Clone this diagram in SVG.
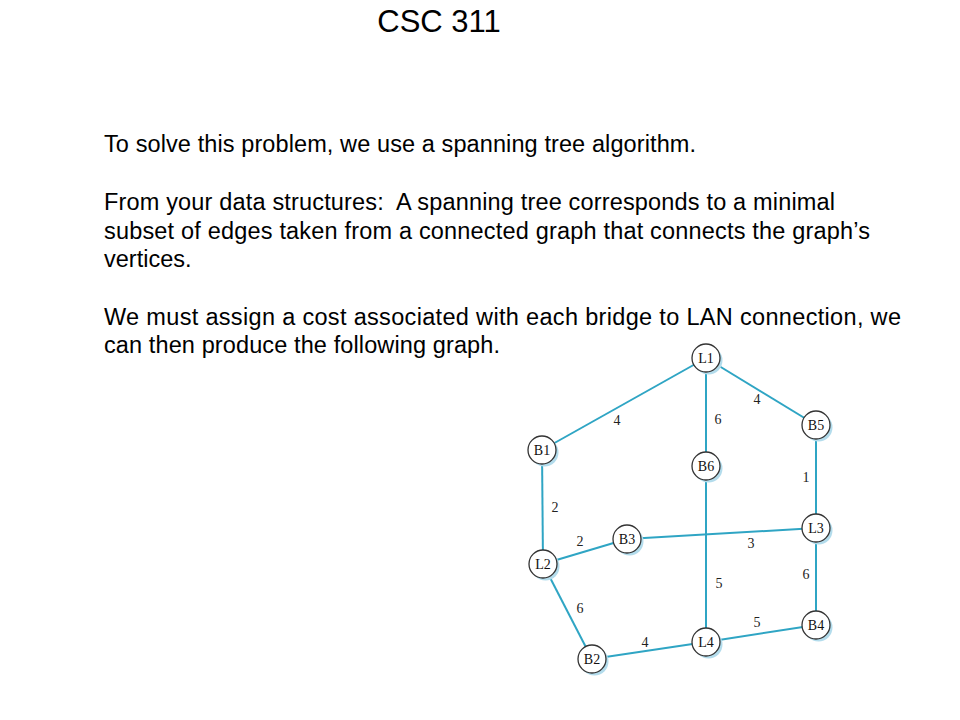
<svg xmlns="http://www.w3.org/2000/svg" width="960" height="720" viewBox="0 0 960 720">
<style>
.title{font-family:"Liberation Sans",Arial,sans-serif;font-size:31px;fill:#000;text-anchor:middle}
.body{font-family:"Liberation Sans",Arial,sans-serif;font-size:23.5px;fill:#000;white-space:pre}
.edge{stroke:#2fa5c4;stroke-width:2;fill:none}
.shadow{fill:#b3dcec}
.node{fill:#fff;stroke:#333;stroke-width:1.3}
.nl{font-family:"Liberation Serif","Times New Roman",serif;font-size:14px;fill:#111;text-anchor:middle}
.wl{font-family:"Liberation Serif","Times New Roman",serif;font-size:14px;fill:#222;text-anchor:middle}
</style>
<rect width="960" height="720" fill="#fff"/>
<text class="title" x="439" y="32">CSC 311</text>
<g id="text">
<text class="body" x="104" y="152" textLength="592" lengthAdjust="spacing">To solve this problem, we use a spanning tree algorithm.</text>
<text class="body" x="104" y="210" textLength="731" lengthAdjust="spacing" xml:space="preserve">From your data structures:  A spanning tree corresponds to a minimal</text>
<text class="body" x="104" y="238.5" textLength="766" lengthAdjust="spacing">subset of edges taken from a connected graph that connects the graph’s</text>
<text class="body" x="104" y="267">vertices.</text>
<text class="body" x="104" y="325" textLength="797" lengthAdjust="spacing">We must assign a cost associated with each bridge to LAN connection, we</text>
<text class="body" x="104" y="353" textLength="396" lengthAdjust="spacing">can then produce the following graph.</text>
</g>
<g id="connectors">
<line class="edge" x1="706" y1="358" x2="542" y2="450"/>
<line class="edge" x1="706" y1="358" x2="706" y2="466"/>
<line class="edge" x1="706" y1="358" x2="816" y2="425"/>
<line class="edge" x1="816" y1="425" x2="816" y2="528"/>
<line class="edge" x1="542" y1="450" x2="543" y2="564"/>
<line class="edge" x1="543" y1="564" x2="627" y2="539"/>
<line class="edge" x1="627" y1="539" x2="816" y2="528"/>
<line class="edge" x1="706" y1="466" x2="706" y2="642"/>
<line class="edge" x1="816" y1="528" x2="816" y2="625"/>
<line class="edge" x1="543" y1="564" x2="592" y2="659"/>
<line class="edge" x1="592" y1="659" x2="706" y2="642"/>
<line class="edge" x1="706" y1="642" x2="816" y2="625"/>
</g>
<g id="weights">
<text class="wl" x="617" y="425">4</text>
<text class="wl" x="718" y="424">6</text>
<text class="wl" x="757" y="404">4</text>
<text class="wl" x="806" y="482">1</text>
<text class="wl" x="555" y="512">2</text>
<text class="wl" x="580" y="546">2</text>
<text class="wl" x="751" y="548">3</text>
<text class="wl" x="719" y="588">5</text>
<text class="wl" x="806" y="579">6</text>
<text class="wl" x="580" y="613">6</text>
<text class="wl" x="757" y="627">5</text>
<text class="wl" x="645" y="647">4</text>
</g>
<g id="L1"><circle class="shadow" cx="708.5" cy="360.5" r="14"/><circle class="node" cx="706" cy="358" r="14"/><text class="nl" x="706" y="363">L1</text></g>
<g id="B1"><circle class="shadow" cx="544.5" cy="452.5" r="14"/><circle class="node" cx="542" cy="450" r="14"/><text class="nl" x="542" y="455">B1</text></g>
<g id="B5"><circle class="shadow" cx="818.5" cy="427.5" r="14"/><circle class="node" cx="816" cy="425" r="14"/><text class="nl" x="816" y="430">B5</text></g>
<g id="B6"><circle class="shadow" cx="708.5" cy="468.5" r="14"/><circle class="node" cx="706" cy="466" r="14"/><text class="nl" x="706" y="471">B6</text></g>
<g id="L3"><circle class="shadow" cx="818.5" cy="530.5" r="14"/><circle class="node" cx="816" cy="528" r="14"/><text class="nl" x="816" y="533">L3</text></g>
<g id="B3"><circle class="shadow" cx="629.5" cy="541.5" r="14"/><circle class="node" cx="627" cy="539" r="14"/><text class="nl" x="627" y="544">B3</text></g>
<g id="L2"><circle class="shadow" cx="545.5" cy="566.5" r="14"/><circle class="node" cx="543" cy="564" r="14"/><text class="nl" x="543" y="569">L2</text></g>
<g id="B4"><circle class="shadow" cx="818.5" cy="627.5" r="14"/><circle class="node" cx="816" cy="625" r="14"/><text class="nl" x="816" y="630">B4</text></g>
<g id="L4"><circle class="shadow" cx="708.5" cy="644.5" r="14"/><circle class="node" cx="706" cy="642" r="14"/><text class="nl" x="706" y="647">L4</text></g>
<g id="B2"><circle class="shadow" cx="594.5" cy="661.5" r="14"/><circle class="node" cx="592" cy="659" r="14"/><text class="nl" x="592" y="664">B2</text></g>
</svg>
